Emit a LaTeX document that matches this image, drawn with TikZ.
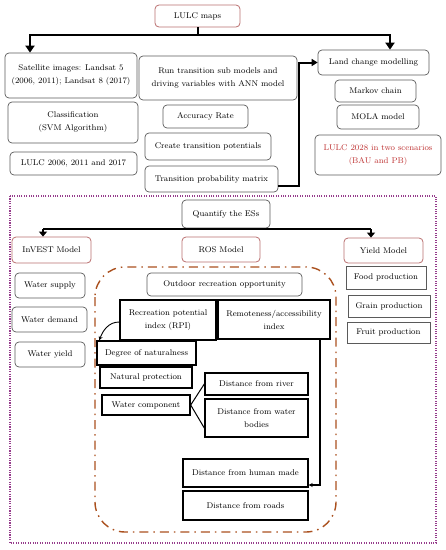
\documentclass[tikz,border=0pt]{standalone}
\usetikzlibrary{arrows.meta,calc}
\definecolor{edgegray}{RGB}{90,90,90}
\definecolor{redline}{RGB}{185,110,110}
\definecolor{redtext}{RGB}{190,50,50}
\definecolor{dotpurple}{RGB}{150,60,140}
\definecolor{dashbrown}{RGB}{170,80,30}
\tikzset{
  base/.style={align=center, inner sep=1pt, font=\fontsize{8.3}{13}\selectfont, text=black},
  rbox/.style={base, draw=edgegray, line width=0.7pt, rounded corners=4pt},
  redbox/.style={base, draw=redline, line width=0.8pt, rounded corners=4pt},
  sqbox/.style={base, draw=black, line width=1.4pt},
  gbox/.style={base, draw=edgegray, line width=0.9pt},
  bigline/.style={draw=black, line width=2pt},
  bigarrow/.style={draw=black, line width=2pt, -{Triangle[width=9pt,length=7pt]}},
  midline/.style={draw=black, line width=1.1pt},
  midarrow/.style={draw=black, line width=1.1pt, -{Triangle[width=8pt,length=5pt]}},
  thinarrow/.style={draw=black, line width=0.9pt, -{Stealth[width=4pt,length=4pt]}},
  thin/.style={draw=black, line width=1pt},
}
\newcommand{\bx}[6]{\node[#1, minimum width=#4pt, minimum height=#5pt] (#2) at #3 {#6};}
\begin{document}
\begin{tikzpicture}[x=1pt,y=-1pt]
\useasboundingbox (0,0) rectangle (446,550);
% outer dotted frame
\draw[dotpurple, line width=1.4pt, dash pattern=on 1.1pt off 1.3pt] (10,196) rectangle (436,543);
% dash-dot frame
\draw[dashbrown, line width=1.4pt, dash pattern=on 9pt off 5pt on 1.5pt off 5pt, rounded corners=30pt] (95,267) rectangle (336,532);

% top part
\bx{redbox}{lulc}{(197.5,16)}{85}{22}{LULC maps}
\bx{rbox}{sat}{(71,75.5)}{132}{45}{Satellite images: Landsat 5\\(2006, 2011); Landsat 8 (2017)}
\bx{rbox}{cls}{(73,122.5)}{130}{41}{Classification\\(SVM Algorithm)}
\bx{rbox}{lulcb}{(73.5,163.5)}{127}{23}{LULC 2006, 2011 and 2017}
\bx{rbox}{run}{(218,78)}{158}{44}{Run transition sub models and\\driving variables with ANN model}
\bx{rbox}{acc}{(205.5,116.5)}{85}{23}{Accuracy Rate}
\bx{rbox}{ctp}{(208,146.5)}{126}{27}{Create transition potentials}
\bx{rbox}{tpm}{(211.5,179)}{133}{26}{Transition probability matrix}
\bx{rbox}{lcm}{(373.5,62.5)}{111}{25}{Land change modelling}
\bx{rbox}{mkv}{(375.5,91)}{81}{22}{Markov chain}
\bx{rbox}{mola}{(378,117)}{82}{24}{MOLA model}
\bx{rbox}{lts}{(378,155)}{126}{40}{\textcolor{redtext}{LULC 2028 in two scenarios}\\\textcolor{redtext}{(BAU and PB)}}

\coordinate (hl) at (30,35);
\coordinate (hr) at (390,35);
\draw[bigline] (lulc.south) -- (lulc.south |- hl);
\draw[bigline] (hl) -- (hr);
\draw[bigarrow] ([yshift=1pt]hl) -- (hl |- sat.north);
\draw[bigarrow] ([yshift=1pt]hr) -- (hr |- lcm.north);
\coordinate (kx) at (299,0);
\draw[bigline, -{Triangle[width=7pt,length=6pt]}] ([yshift=-7pt]tpm.east) -| (kx |- lcm.west) -- (lcm.west);

% bottom part
\bx{rbox}{qes}{(226,214)}{88}{28}{Quantify the ESs}
\bx{redbox}{inv}{(51.5,250)}{79}{26}{InVEST Model}
\bx{redbox}{ros}{(221,249.5)}{78}{25}{ROS Model}
\bx{redbox}{yld}{(383.5,250.5)}{79}{25}{Yield Model}
\coordinate (ql) at (43,229);
\coordinate (qr) at (371,229);
\draw[midline] (qes.south) -- (qes.south |- ql);
\draw[midline] (ql) -- (qr);
\draw[midarrow] (ql) -- (ql |- inv.north);
\draw[midarrow] (qr) -- (qr |- yld.north);

\bx{rbox}{ws}{(50,285.5)}{70}{25}{Water supply}
\bx{rbox}{wd}{(49.5,319.5)}{75}{25}{Water demand}
\bx{rbox}{wy}{(50,354.5)}{70}{25}{Water yield}

\bx{gbox}{food}{(386,277.5)}{80}{23}{Food production}
\bx{gbox}{grain}{(389,306)}{82}{22}{Grain production}
\bx{gbox}{fruit}{(388.5,332.5)}{83}{21}{Fruit production}

\bx{rbox}{oro}{(224.5,284.5)}{155}{23}{Outdoor recreation opportunity}
\bx{sqbox}{rpi}{(168,320)}{96}{40}{Recreation potential\\index (RPI)}
\bx{sqbox}{rem}{(274,319.5)}{112}{39}{Remoteness/accessibility\\index}
\bx{sqbox}{don}{(146.5,353)}{99}{24}{Degree of naturalness}
\bx{sqbox}{np}{(146,377.5)}{92}{21}{Natural protection}
\bx{sqbox}{wc}{(146,405)}{88}{20}{Water component}
\bx{sqbox}{dfr}{(256.5,384)}{103}{22}{Distance from river}
\bx{sqbox}{dwb}{(256.5,418)}{103}{38}{Distance from water\\bodies}
\bx{sqbox}{dhm}{(245.5,473)}{125}{28}{Distance from human made}
\bx{sqbox}{drd}{(245.5,505.5)}{125}{29}{Distance from roads}

\draw[thinarrow] ([yshift=-2pt]rpi.west) to[out=180,in=70] ([xshift=3pt]don.north west);
\draw[thin] (wc.east) -- (dfr.west);
\draw[thin] (wc.east) -- ([yshift=-10pt]dwb.west);
\draw[thinarrow, line width=1.2pt] ([xshift=46pt]rem.south) |- ([yshift=-12pt]dhm.east);
\end{tikzpicture}
\end{document}
